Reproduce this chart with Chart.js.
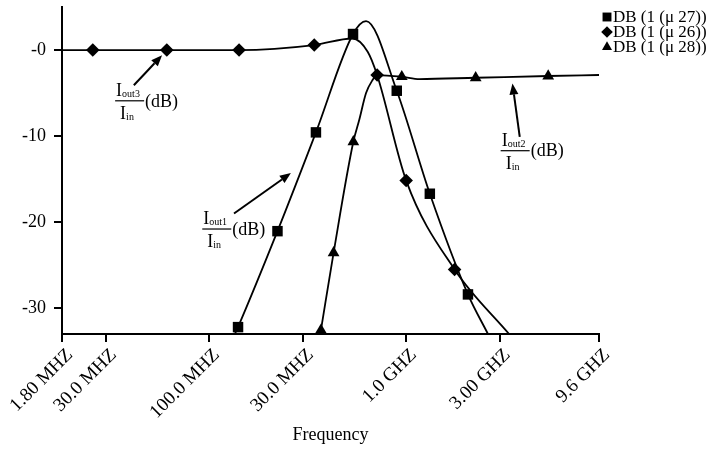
<!DOCTYPE html>
<html>
<head>
<meta charset="utf-8">
<title>Frequency response</title>
<script src="https://cdn.jsdelivr.net/npm/chart.js@4.4.1/dist/chart.umd.min.js"></script>
<style>
  html, body { margin: 0; padding: 0; background: #fff; }
</style>
</head>
<body>
<canvas id="chart" width="727" height="451"></canvas>
<script>
// eixo x: frequências (Hz, escala log) e os textos impressos em cada marca
const tickFreqs = [18e6, 30e6, 100e6, 300e6, 1e9, 3e9, 9.6e9];
const tickLabels = ['1.80 MHZ', '30.0 MHZ', '100.0 MHZ', '30.0 MHZ', '1.0 GHZ', '3.00 GHZ', '9.6 GHZ'];
const dbTicks = [-30, -20, -10, 0];

// DB (1 (μ 27)) -> Iout1/Iin
const freq27 = [136e6, 141e6, 223.6e6, 350.6e6, 541e6, 630e6, 902e6, 1.328e9, 2.074e9, 2.62e9];
const db27 = [-33, -32.2, -21.05, -9.57, 1.86, 3.37, -4.73, -16.7, -28.4, -33];
const mark27 = [0, 1, 1, 1, 1, 0, 1, 1, 1, 0];

// DB (1 (μ 26)) -> Iout3/Iin
const freq26 = [18e6, 25.8e6, 61.3e6, 142.7e6, 343.8e6, 536.6e6, 642e6, 717e6, 1.007e9, 1.774e9, 3.355e9];
const db26 = [0, 0, 0, 0, 0.58, 1.34, -0.2, -2.91, -15.17, -25.5, -33];
const mark26 = [0, 1, 1, 1, 1, 0, 0, 1, 1, 1, 0];

// DB (1 (μ 28)) -> Iout2/Iin
const freq28 = [371.7e6, 430.9e6, 543e6, 582e6, 630e6, 679e6, 717e6, 956.6e6, 1.177e9, 2.27e9, 5.3e9, 9.6e9];
const db28 = [-32.56, -23.57, -10.66, -8.1, -5.0, -3.5, -2.91, -3.1, -3.37, -3.22, -3.02, -2.9];
const mark28 = [1, 1, 1, 0, 0, 0, 0, 1, 0, 1, 1, 0];

// setas com a razão Iout/Iin (coordenadas em Hz / dB)
const ratioNotes = [
  { sub: 'out3', tip: [58e6, -0.6], tail: [41.7e6, -4.1], at: [33.5e6, -5.9] },
  { sub: 'out1', tip: [261.6e6, -14.3], tail: [134.5e6, -19], at: [92.8e6, -20.8] },
  { sub: 'out2', tip: [3.49e9, -3.9], tail: [3.8e9, -10.1], at: [3.04e9, -11.7] }
];

const serif = '"Liberation Serif", "Times New Roman", serif';

function serie(label, freqs, dbs, marks, style, radius) {
  return {
    label: label,
    data: freqs.map((f, i) => ({ x: f, y: dbs[i] })),
    pointStyle: style,
    pointRadius: marks.map(m => (m ? radius : 0)),
    pointHoverRadius: 0,
    legendRadius: style === 'rect' ? 6.3 : 5.8,
    backgroundColor: '#000',
    borderColor: '#000',
    pointBorderWidth: 0,
    borderWidth: 1.8,
    cubicInterpolationMode: 'monotone',
    fill: false
  };
}

// desenha as setas e as frações Iout/Iin (dB)
const ratioLabels = {
  id: 'ratioLabels',
  afterDraw(chart) {
    const { ctx, scales: { x, y } } = chart;
    ctx.save();
    ctx.fillStyle = '#000';
    ctx.strokeStyle = '#000';
    ratioNotes.forEach(n => {
      const tx = x.getPixelForValue(n.tip[0]), ty = y.getPixelForValue(n.tip[1]);
      const sx = x.getPixelForValue(n.tail[0]), sy = y.getPixelForValue(n.tail[1]);
      const a = Math.atan2(ty - sy, tx - sx);
      const len = 11, half = 4.5;
      const bx0 = tx - len * Math.cos(a), by0 = ty - len * Math.sin(a);
      ctx.lineWidth = 2;
      ctx.beginPath();
      ctx.moveTo(sx, sy);
      ctx.lineTo(bx0, by0);
      ctx.stroke();
      ctx.beginPath();
      ctx.moveTo(tx, ty);
      ctx.lineTo(bx0 + half * Math.sin(a), by0 - half * Math.cos(a));
      ctx.lineTo(bx0 - half * Math.sin(a), by0 + half * Math.cos(a));
      ctx.closePath();
      ctx.fill();

      // fração
      const bx = x.getPixelForValue(n.at[0]), by = y.getPixelForValue(n.at[1]);
      ctx.textAlign = 'left';
      ctx.textBaseline = 'alphabetic';
      ctx.font = '18px ' + serif;
      ctx.fillText('I', bx + 1, by - 5);
      const iw = ctx.measureText('I').width;
      ctx.fillText('I', bx + 5, by + 18);
      ctx.font = '10px ' + serif;
      ctx.fillText(n.sub, bx + 1 + iw, by - 4);
      ctx.fillText('in', bx + 5 + iw, by + 19);
      ctx.fillRect(bx, by - 0.6, 29, 1.2);
      ctx.font = '18px ' + serif;
      ctx.textBaseline = 'middle';
      ctx.fillText('(dB)', bx + 30, by + 1);
    });
    ctx.restore();
  }
};

// legenda no canto superior direito
const sideLegend = {
  id: 'sideLegend',
  afterDraw(chart) {
    const ctx = chart.ctx;
    const mx = chart.chartArea.right + 8;
    let my = chart.chartArea.top + 10;
    ctx.save();
    ctx.font = '17px ' + serif;
    ctx.textBaseline = 'middle';
    ctx.textAlign = 'left';
    chart.data.datasets.forEach(ds => {
      ctx.fillStyle = '#000';
      Chart.helpers.drawPoint(ctx, { pointStyle: ds.pointStyle, radius: ds.legendRadius, rotation: 0, borderWidth: 0 }, mx, my);
      ctx.fillText(ds.label, mx + 6, my + 1);
      my += 15;
    });
    ctx.restore();
  }
};

new Chart(document.getElementById('chart'), {
  type: 'line',
  data: {
    datasets: [
      serie('DB (1 (\u03bc 27))', freq27, db27, mark27, 'rect', 7.4),
      serie('DB (1 (\u03bc 26))', freq26, db26, mark26, 'rectRot', 6.8),
      serie('DB (1 (\u03bc 28))', freq28, db28, mark28, 'triangle', 6.8)
    ]
  },
  options: {
    responsive: false,
    animation: false,
    layout: { padding: { top: 7, right: 128, left: 0, bottom: 0 } },
    plugins: {
      legend: { display: false },
      tooltip: { enabled: false }
    },
    scales: {
      x: {
        type: 'logarithmic',
        min: 18e6,
        max: 9.6e9,
        afterBuildTicks: s => { s.ticks = tickFreqs.map(v => ({ value: v })); },
        afterFit: s => { s.height = 117; s.paddingLeft = 0; s.paddingRight = 0; },
        border: { color: '#000', width: 2 },
        grid: { drawOnChartArea: false, color: '#000', lineWidth: 2, tickLength: 8 },
        ticks: {
          autoSkip: false,
          minRotation: 45,
          maxRotation: 45,
          labelOffset: 8,
          padding: 2,
          color: '#000',
          font: { family: serif, size: 19 },
          callback: (v, i) => tickLabels[i]
        },
        title: {
          display: true,
          text: 'Frequency',
          color: '#000',
          font: { family: serif, size: 18 },
          padding: { top: 0, bottom: 5 }
        }
      },
      y: {
        min: -33,
        max: 5,
        afterBuildTicks: s => { s.ticks = dbTicks.map(v => ({ value: v })); },
        afterFit: s => { s.width = 62; s.paddingTop = 0; s.paddingBottom = 0; },
        border: { color: '#000', width: 2 },
        grid: { drawOnChartArea: false, color: '#000', lineWidth: 2, tickLength: 8 },
        ticks: {
          padding: 8,
          color: '#000',
          font: { family: serif, size: 18 },
          callback: v => (v === 0 ? '-0' : String(v))
        }
      }
    }
  },
  plugins: [ratioLabels, sideLegend]
});
</script>
</body>
</html>
